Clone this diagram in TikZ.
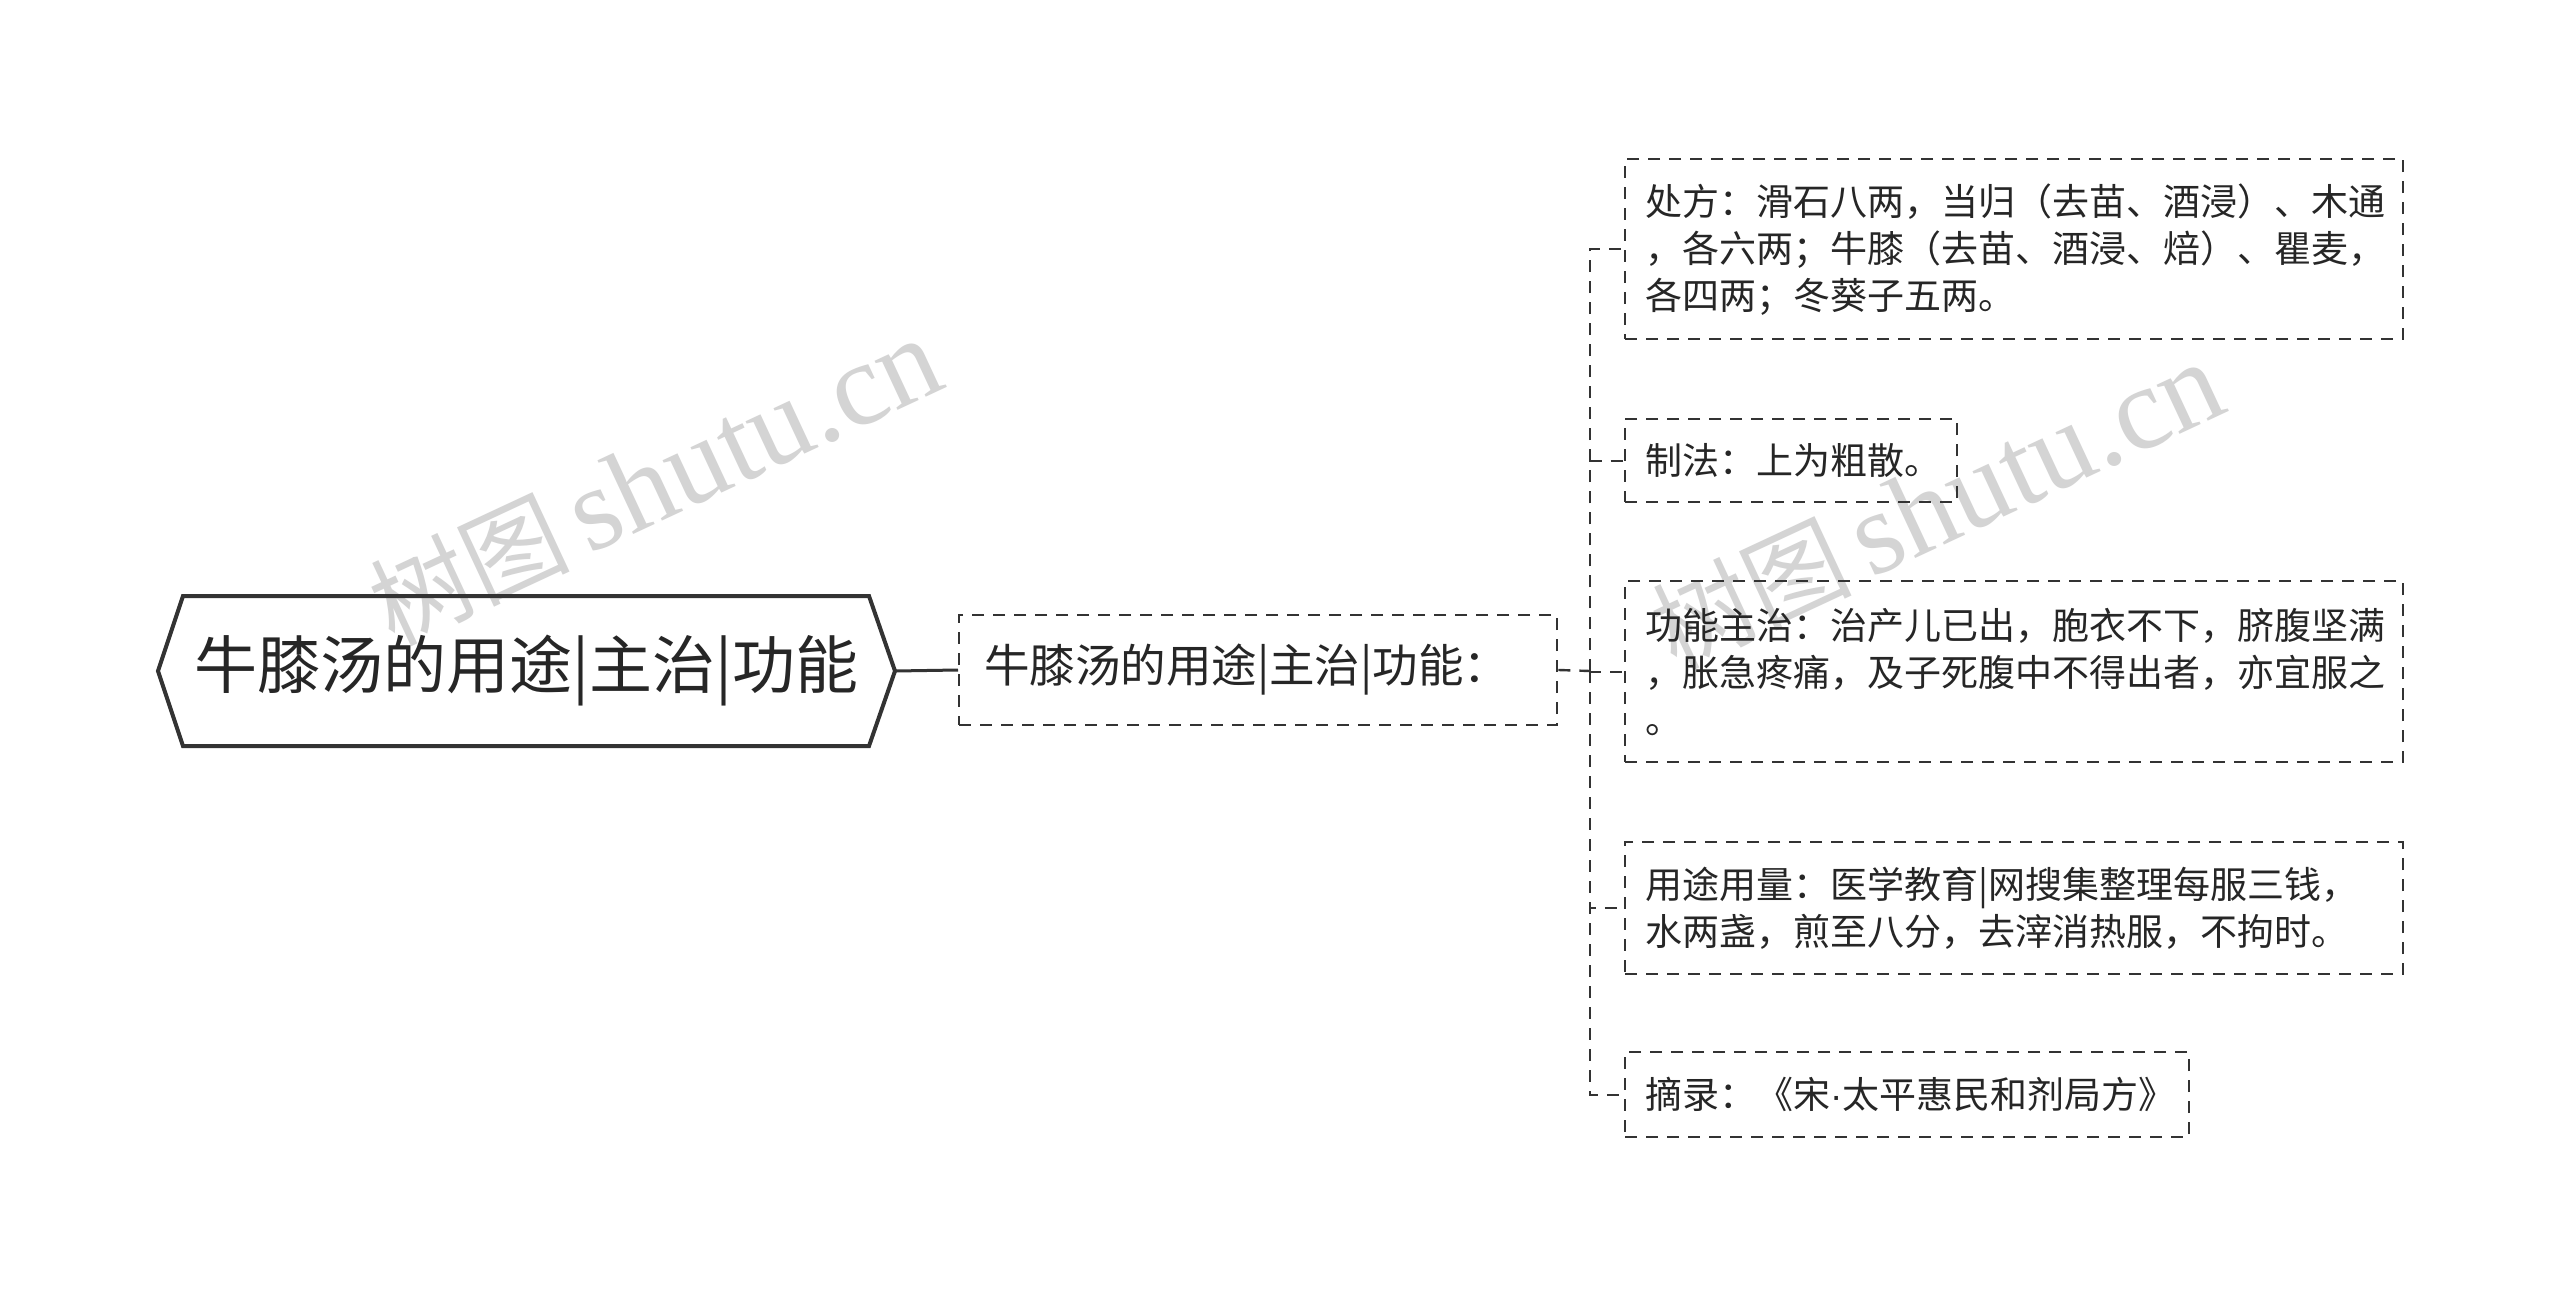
\documentclass[tikz,border=0pt]{standalone}
\usepackage{fontspec}
\setmainfont{Noto Sans CJK SC}
\newfontfamily\cjk{Noto Sans CJK SC}
\newfontfamily\wmlat{Liberation Serif}
\newfontfamily\latsans{Liberation Sans}
\begin{document}
\begin{tikzpicture}[x=1pt,y=-1pt,
  conn/.style={draw=black!80, line width=2.4pt, dash pattern=on 12pt off 9pt},
  leafbox/.style={conn, anchor=north west, inner xsep=20pt, inner ysep=0pt, align=left,
     font=\cjk\fontsize{37}{47}\selectfont, text=black!85},
  wm/.style={text=black!17, rotate=25, inner sep=0pt}
]
\useasboundingbox[fill=white] (0,0) rectangle (2560,1295);
% watermarks
\node[wm] (wm1) at (655,482) {\cjk\fontsize{100}{100}\selectfont 树图\,\wmlat\fontsize{118}{118}\selectfont shutu.cn};
\node[wm] (wm2) at (1937,506) {\cjk\fontsize{100}{100}\selectfont 树图\,\wmlat\fontsize{118}{118}\selectfont shutu.cn};
% root
\draw[draw=black!80, line width=4pt, line join=miter] (158,671) -- (183,596) -- (869,596) -- (895,671) -- (869,746) -- (183,746) -- cycle;
\node[minimum width=737pt, minimum height=150pt, inner sep=0pt, font=\cjk\fontsize{63}{70}\selectfont, text=black!85] (root) at (526.5,671) {牛膝汤的用途|主治|功能};
% middle
\node[conn, anchor=west, text width=598pt, align=left, inner xsep=0pt, inner ysep=0pt, minimum height=110pt, font=\cjk\fontsize{45.5}{52}\selectfont, text=black!85] (mid) at (958,670) {\hspace*{25pt}牛膝汤的用途|主治|功能：};
\draw[draw=black!80, line width=3pt] (root.east) -- (mid.west);
% leaves
\node[leafbox, text width=738pt, minimum height=180pt] (b1) at (1624,158) {处方：滑石八两，当归（去苗、酒浸）、木通\\，各六两；牛膝（去苗、酒浸、焙）、瞿麦，\\各四两；冬葵子五两。};
\node[leafbox, text width=292pt, minimum height=83pt] (b2) at (1624,418) {制法：上为粗散。};
\node[leafbox, text width=738pt, minimum height=181pt] (b3) at (1624,580) {功能主治：治产儿已出，胞衣不下，脐腹坚满\\，胀急疼痛，及子死腹中不得出者，亦宜服之\\。};
\node[leafbox, text width=738pt, minimum height=132pt] (b4) at (1624,841) {用途用量：医学教育|网搜集整理每服三钱，\\水两盏，煎至八分，去滓消热服，不拘时。};
\node[leafbox, text width=524pt, minimum height=85pt] (b5) at (1624,1051) {摘录：《宋{\latsans ·}太平惠民和剂局方》};
% connectors
\coordinate (sp) at (1590,671);
\draw[conn] (mid.east) -- (sp);
\foreach \b in {b1,b2,b3,b4,b5} { \draw[conn] (sp) |- (\b.west); }
\end{tikzpicture}
\end{document}
